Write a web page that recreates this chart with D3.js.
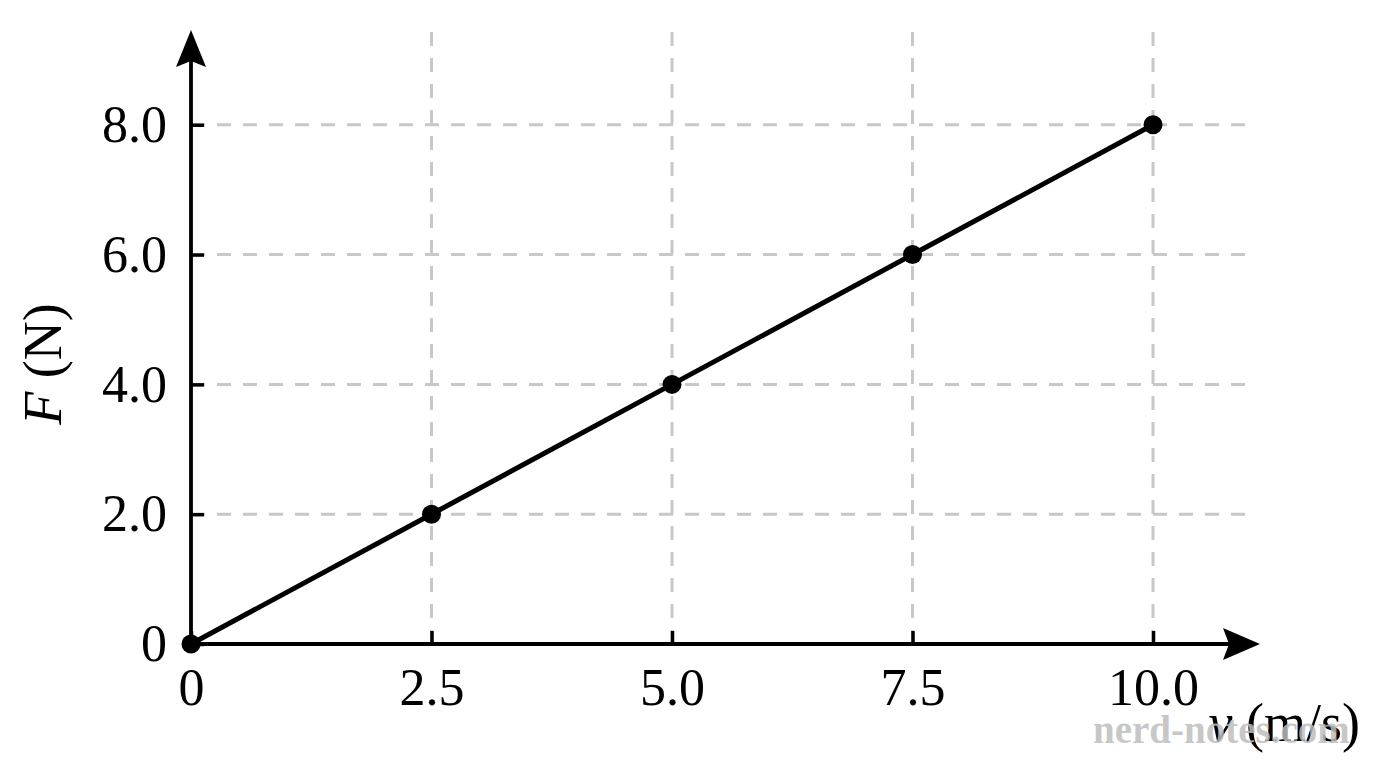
<!DOCTYPE html>
<html>
<head>
<meta charset="utf-8">
<script src="https://cdn.jsdelivr.net/npm/d3@7"></script>
<style>
  html, body { margin: 0; padding: 0; background: #ffffff; }
  svg { display: block; }
  text { font-family: "Liberation Serif", "DejaVu Serif", serif; }
</style>
</head>
<body>
<svg id="chart" width="1376" height="768"></svg>
<script>
// ---- data ----
const speeds = [0, 2.5, 5.0, 7.5, 10.0];          // v (m/s)
const forces = [0, 2.0, 4.0, 6.0, 8.0];           // F (N)
const xTickValues = [0, 2.5, 5.0, 7.5, 10.0];
const xTickLabels = ["0", "2.5", "5.0", "7.5", "10.0"];
const yTickValues = [0, 2.0, 4.0, 6.0, 8.0];
const yTickLabels = ["0", "2.0", "4.0", "6.0", "8.0"];
const xLimit = [0, 11.06];
const yLimit = [0, 9.46];

const svg = d3.select("#chart");
const fontSize = 52;

const x = d3.scaleLinear().domain(xLimit).range([191, 1255]);
const y = d3.scaleLinear().domain(yLimit).range([644, 30]);

// grid
const grid = svg.append("g");
grid.selectAll("line.v").data(xTickValues.filter(d => d !== 0)).join("line")
  .attr("x1", d => x(d)).attr("x2", d => x(d))
  .attr("y1", y(0)).attr("y2", y(yLimit[1]))
  .attr("stroke", "#c8c8c8").attr("stroke-width", 3)
  .attr("stroke-dasharray", "14 12");
grid.selectAll("line.h").data(yTickValues.filter(d => d !== 0)).join("line")
  .attr("x1", x(0)).attr("x2", x(xLimit[1]))
  .attr("y1", d => y(d)).attr("y2", d => y(d))
  .attr("stroke", "#c8c8c8").attr("stroke-width", 3)
  .attr("stroke-dasharray", "14 12");

// axes (ticks inward)
const xAxis = d3.axisBottom(x).tickValues(xTickValues)
  .tickFormat((d, i) => xTickLabels[i]).tickSizeInner(-13).tickSizeOuter(0).tickPadding(24);
const yAxis = d3.axisLeft(y).tickValues(yTickValues)
  .tickFormat((d, i) => yTickLabels[i]).tickSizeInner(-13).tickSizeOuter(0).tickPadding(24);

const gx = svg.append("g").attr("transform", `translate(0,${y(0)})`).call(xAxis);
const gy = svg.append("g").attr("transform", `translate(${x(0)},0)`).call(yAxis);
[gx, gy].forEach(g => {
  g.select(".domain").remove();
  g.selectAll(".tick line").attr("stroke", "#000").attr("stroke-width", 3.5);
  g.selectAll(".tick text").attr("fill", "#000")
    .style("font-family", "'Liberation Serif', serif").style("font-size", fontSize + "px");
});

// axis lines with arrows
svg.append("line").attr("x1", x(0)).attr("x2", x(xLimit[1]) - 4)
  .attr("y1", y(0)).attr("y2", y(0)).attr("stroke", "#000").attr("stroke-width", 3.8);
svg.append("line").attr("x1", x(0)).attr("x2", x(0))
  .attr("y1", y(0)).attr("y2", y(yLimit[1]) + 6).attr("stroke", "#000").attr("stroke-width", 3.8);
// x arrow head
const xt = x(xLimit[1]) + 5, y0 = y(0);
svg.append("path")
  .attr("d", `M${xt},${y0} L${xt - 37},${y0 - 16} L${xt - 31},${y0} L${xt - 37},${y0 + 16} Z`)
  .attr("fill", "#000");
// y arrow head
const yt = y(yLimit[1]), x0 = x(0);
svg.append("path")
  .attr("d", `M${x0},${yt} L${x0 - 15},${yt + 37} L${x0},${yt + 31} L${x0 + 15},${yt + 37} Z`)
  .attr("fill", "#000");

// data line and markers
const pts = speeds.map((v, i) => [v, forces[i]]);
svg.append("path").datum(pts)
  .attr("d", d3.line().x(d => x(d[0])).y(d => y(d[1])))
  .attr("fill", "none").attr("stroke", "#000").attr("stroke-width", 5)
  .attr("stroke-linejoin", "round");
svg.selectAll("circle.pt").data(pts).join("circle")
  .attr("cx", d => x(d[0])).attr("cy", d => y(d[1])).attr("r", 9.5).attr("fill", "#000");

// axis labels
const xl = svg.append("text").attr("x", 1360).attr("y", 741).attr("text-anchor", "end")
  .style("font-size", (fontSize + 2) + "px").attr("fill", "#000");
xl.append("tspan").style("font-style", "italic").text("v");
xl.append("tspan").text(" (m/s)");

const yl = svg.append("text")
  .attr("transform", `translate(61,364) rotate(-90)`).attr("text-anchor", "middle")
  .style("font-size", (fontSize + 2) + "px").attr("fill", "#000");
yl.append("tspan").style("font-style", "italic").text("F");
yl.append("tspan").text(" (N)");

// watermark (overlaps the axis label, as in the source image)
svg.append("text").attr("x", 1093).attr("y", 743)
  .style("font-size", "39px").style("font-weight", "bold")
  .attr("fill", "#bdbdbd").attr("fill-opacity", 0.85).text("nerd-notes.com");
</script>
</body>
</html>
